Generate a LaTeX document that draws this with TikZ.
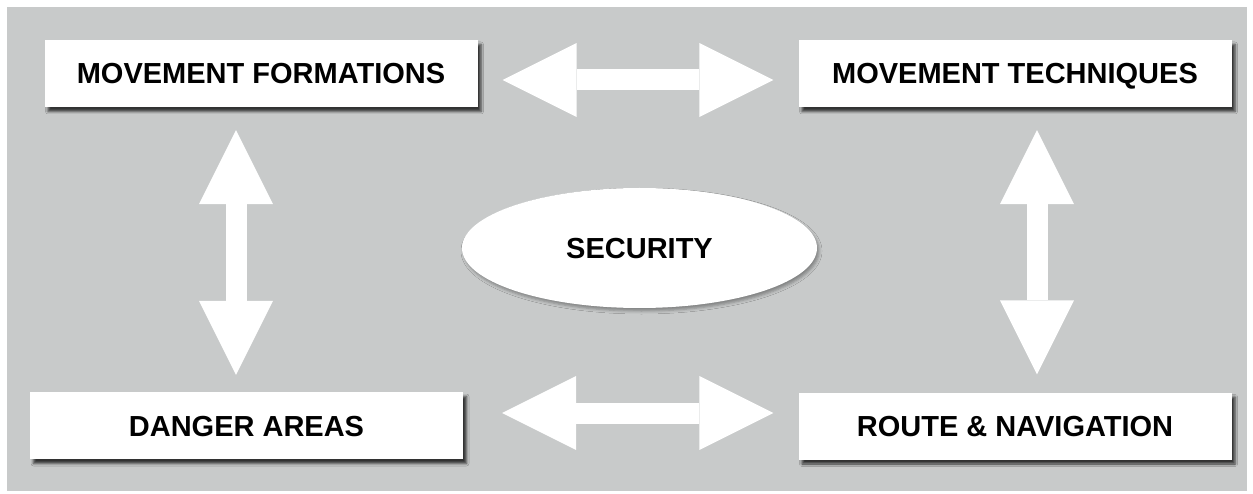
\documentclass[tikz,border=0pt]{standalone}
\usepackage{fontspec}
\setmainfont{Liberation Sans}
\usetikzlibrary{arrows.meta,shadows.blur,shapes.geometric}
\definecolor{bggray}{RGB}{200,202,202}
\begin{document}
\begin{tikzpicture}[x=1pt,y=-1pt,
  lbl/.style={font=\fontsize{29}{30}\selectfont\bfseries, text height=21pt, text depth=0pt},
  box/.style={lbl, fill=white, minimum width=433pt, minimum height=67pt, inner sep=0pt,
    blur shadow={shadow xshift=3.5pt, shadow yshift=-4.5pt, shadow blur radius=2.5pt, shadow opacity=75}},
  oval/.style={lbl, ellipse, fill=white, minimum width=355pt, minimum height=120pt, inner sep=0pt,
    blur shadow={shadow xshift=2pt, shadow yshift=-3pt, shadow blur radius=3pt, shadow opacity=35}},
  dblarrow/.style={draw=white, line width=21pt,
    {Triangle[length=74pt,width=74pt,line width=0pt]}-{Triangle[length=74pt,width=74pt,line width=0pt]}}]
\useasboundingbox (0,0) rectangle (1253,494);
\fill[white] (0,0) rectangle (1253,494);
\fill[bggray] (7,7) rectangle (1247,491);

\node[box] (mf) at (261,73.5) {MOVEMENT FORMATIONS};
\node[box] (mt) at (1015,73.5) {MOVEMENT TECHNIQUES};
\node[box] (da) at (246.5,425.5) {DANGER AREAS};
\node[box] (rn) at (1015,426) {ROUTE \& NAVIGATION};
\node[oval] (sec) at (639.5,248) {SECURITY};

\draw[dblarrow] ([xshift=25pt,yshift=-6.5pt]mf.east) -- ([xshift=-25pt,yshift=-6.5pt]mt.west);
\draw[dblarrow] ([xshift=39pt,yshift=12.5pt]da.east) -- ([xshift=-25pt,yshift=13pt]rn.west);
\draw[dblarrow] ([xshift=-25pt,yshift=-23pt]mf.south) -- ([xshift=-10.5pt,yshift=17pt]da.north);
\draw[dblarrow] ([xshift=22pt,yshift=-23pt]mt.south) -- ([xshift=22pt,yshift=18pt]rn.north);
\end{tikzpicture}
\end{document}
